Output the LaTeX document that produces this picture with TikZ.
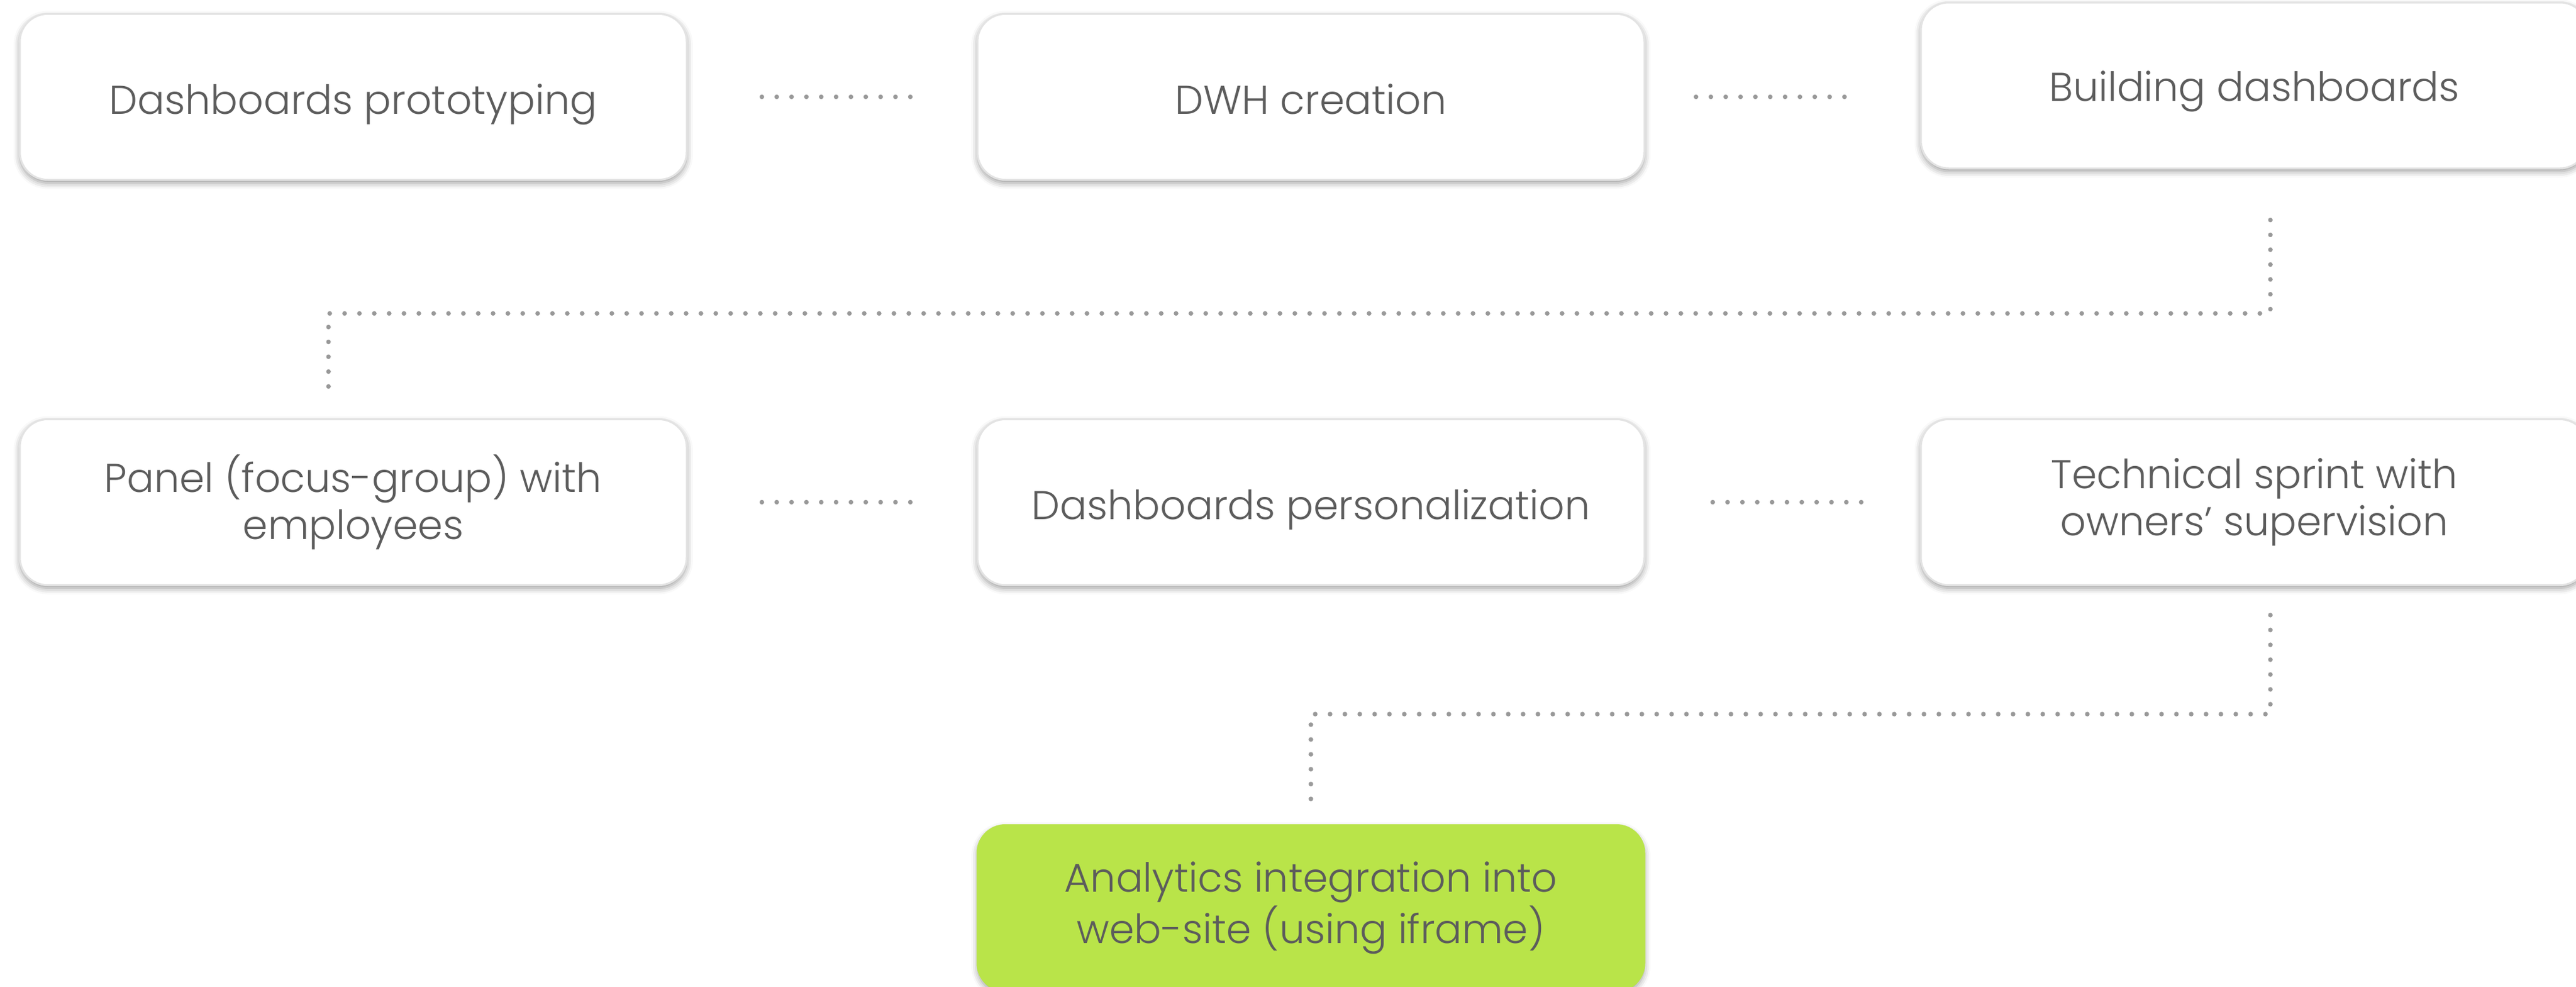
\documentclass[tikz,border=0pt]{standalone}
\usepackage{fontspec}
\setmainfont{Poppins}[UprightFont=* Light]
\usetikzlibrary{positioning,shadows.blur}

\definecolor{txtgray}{HTML}{5C5C5C}
\definecolor{boxline}{HTML}{E3E3E3}
\definecolor{dotgray}{HTML}{999999}
\definecolor{limegreen}{HTML}{B9E449}

\begin{document}
\begin{tikzpicture}[node distance=76.8pt and 93.4pt,
  semithick]
  \tikzstyle{task}=[draw=boxline,fill=white,rounded corners=9pt,
    minimum width=215.6pt,minimum height=53.6pt,align=center,
    text=txtgray,font=\fontsize{13}{15.3}\selectfont,
    blur shadow={shadow xshift=0pt,shadow yshift=-1pt,
      shadow blur radius=2pt,shadow opacity=40}]
  \tikzstyle{task done}=[task,fill=limegreen,draw=limegreen]
  \tikzstyle{one line}=[text height=12.4pt,text depth=1.4pt]
  \tikzstyle{dotline}=[draw=dotgray,line width=1.5pt,line cap=round,
    dash pattern=on 0pt off 4.8pt]

  \useasboundingbox (0,0) rectangle (832.8pt,-318.8pt);

  \node[task,one line] (b1) at (114.2pt,-31.3pt)         {Dashboards prototyping};
  \node[task,one line] (b2) [right=of b1]                {DWH creation};
  \node[task,one line,text height=11.4pt] (b3) [right=88.8pt of b2,yshift=3.7pt] {Building dashboards};
  \node[task]          (b4) [below=of b1]                {Panel (focus-group) with\\employees};
  \node[task,one line] (b5) [right=of b4]                {Dashboards personalization};
  \node[task]          (b6) [right=88.8pt of b5]         {Technical sprint with\\owners' supervision};
  \node[task done]     (b7) [below=77pt of b5]           {Analytics integration into\\web-site (using iframe)};

  \coordinate (t1) at ([xshift=5.2pt,yshift=-16.4pt]b3.south);
  \coordinate (t2) at ([xshift=-8pt,yshift=8.4pt]b4.north);
  \coordinate (t3) at ([xshift=5.2pt,yshift=-9.4pt]b6.south);
  \coordinate (t4) at ([yshift=7.8pt]b7.north);

  \path[dotline] (b1) edge [shorten <=24pt,shorten >=20pt] (b2)
        (b2.east) edge [shorten <=16.4pt,shorten >=23.6pt] (b2.east -| b3.west)
        (b4) edge [shorten <=24pt,shorten >=20pt] (b5)
        (b5) edge [shorten <=21.8pt,shorten >=18.2pt] (b6)
        ;
  \draw[dotline] (t1) -- ++(0,-30.2pt) -| (t2);
  \draw[dotline] (t3) -- ++(0,-32pt) -| (t4);
\end{tikzpicture}
\end{document}
